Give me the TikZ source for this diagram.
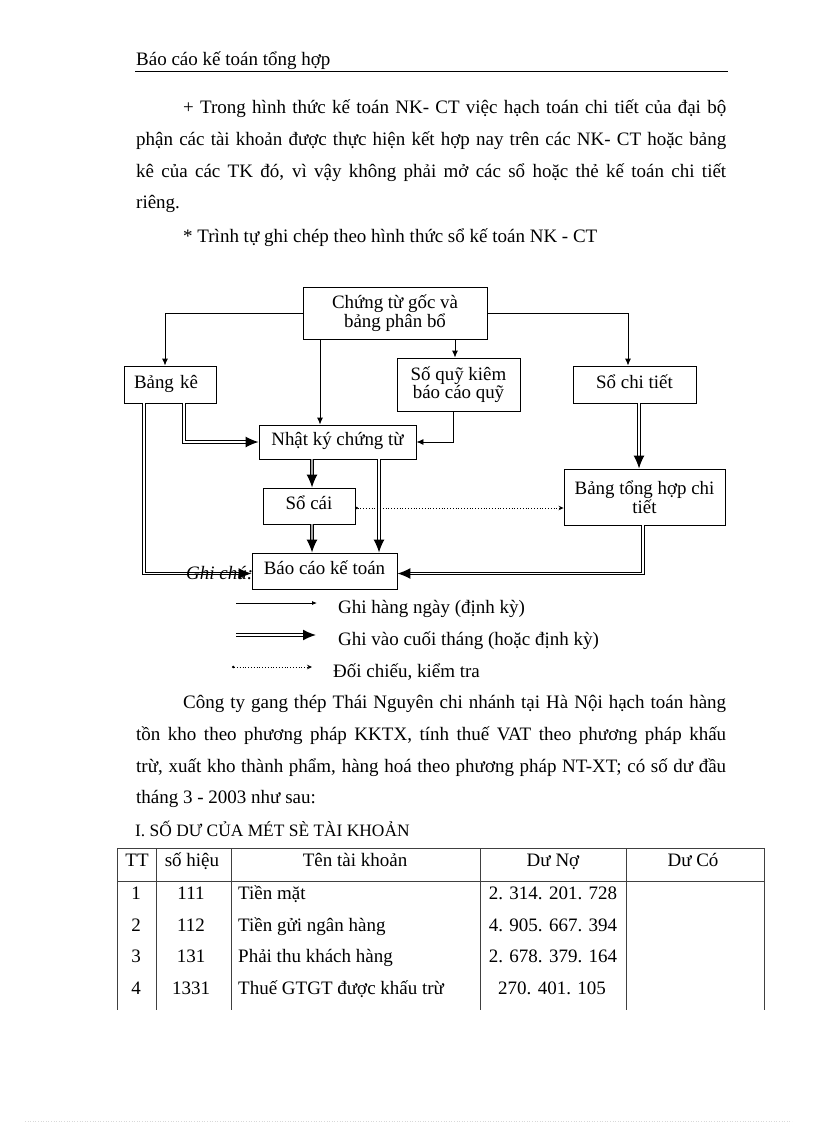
\documentclass[tikz,border=0pt]{standalone}
\usepackage{fontspec}
\setmainfont{Liberation Serif}
\usetikzlibrary{arrows.meta}
\newcommand\bodyfnt{\fontsize{19}{20}\selectfont}
\newcommand\boxfnt{\fontsize{18.9}{17}\selectfont}
\newcommand\headfnt{\fontsize{17.4}{19}\selectfont}
\begin{document}
\begin{tikzpicture}[x=1pt,y=-1pt,
  txt/.style={anchor=base west, inner sep=0pt, font=\bodyfnt},
  ctxt/.style={anchor=base, inner sep=0pt, font=\bodyfnt},
  box/.style={draw, line width=0.9pt, inner sep=0pt, align=center, font=\boxfnt},
  one/.style={text height=11pt, text depth=4pt},
  thinarr/.style={line width=0.9pt, -{Latex[length=7pt,width=6pt]}},
  dblarr/.style={double, double distance=1.3pt, line width=1.2pt, -{Latex[length=13pt,width=11pt]}},
  grayarr/.style={dblarr, double=gray!70},
  dotarr/.style={dotted, line width=0.8pt, {Circle[length=2.5pt]}-{Stealth[length=5pt,width=4.5pt]}},
  tline/.style={line width=0.9pt, black!75}
]
\useasboundingbox (0,0) rectangle (816,1123);
\fill[white] (0,0) rectangle (816,1123);

% header
\node[txt] (hdr) at (136,66) {Báo cáo kế toán tổng hợp};
\draw[line width=0.9pt] (135,71.5) -- (728,71.5);

% paragraph 1
\node[txt] (p1a) at (183,114) {\makebox[543pt][s]{+ Trong hình thức kế toán NK- CT việc hạch toán chi tiết của đại bộ}};
\node[txt] (p1b) at (136,146) {\makebox[590pt][s]{phận các tài khoản được thực hiện kết hợp nay trên các NK- CT hoặc bảng}};
\node[txt] (p1c) at (136,178) {\makebox[590pt][s]{kê của các TK đó, vì vậy không phải mở các sổ hoặc thẻ kế toán chi tiết}};
\node[txt] (p1d) at (136,209) {riêng.};
\node[txt] (p1e) at (183,242) {* Trình tự ghi chép theo hình thức sổ kế toán NK - CT};

% diagram boxes
\node[box, minimum width=184pt, minimum height=52pt] (cg) at (395,313) {Chứng từ gốc và\\bảng phân bổ};
\node[box, one, minimum width=92pt, minimum height=37pt, align=left, text width=72pt, inner xsep=10pt] (bk) at (170,384.5) {Bảng kê};
\node[box, minimum width=123pt, minimum height=53pt] (sq) at (458.5,384.5) {Số quỹ kiêm\\báo cáo quỹ};
\node[box, one, minimum width=123pt, minimum height=37pt] (sct) at (634.5,384.5) {Sổ chi tiết};
\node[box, one, minimum width=157pt, minimum height=34pt] (nk) at (337.5,442) {Nhật ký chứng từ};
\node[box, one, minimum width=92pt, minimum height=36pt] (sc) at (309,506) {Sổ cái};
\node[box, minimum width=161pt, minimum height=56pt] (bth) at (644.5,497) {Bảng tổng hợp chi\\tiết};
\node[box, one, minimum width=145pt, minimum height=36pt] (bc) at (324.5,571) {Báo cáo kế toán};

% helper columns / rows
\coordinate (x144) at (144,0);
\coordinate (x184) at (184,0);
\coordinate (x312) at (312,0);
\coordinate (x320) at (320,0);
\coordinate (x379) at (379,0);
\coordinate (x453) at (453,0);
\coordinate (x455) at (455,0);
\coordinate (x639) at (639,0);
\coordinate (x643) at (643,0);
\coordinate (y508) at (0,508);
\coordinate (y574) at (0,573.5);

% thin connectors
\draw[thinarr] (cg.west) -| ([xshift=-5pt]bk.north);
\draw[thinarr] (cg.east) -| ([xshift=-6.5pt]sct.north);
\draw[thinarr] (cg.south -| x320) -- (nk.north -| x320);
\draw[thinarr] (cg.south -| x455) -- (sq.north -| x455);
\draw[thinarr] (sq.south -| x453) |- (nk.east);

% double connectors
\draw[dblarr] (bk.south -| x184) |- (nk.west);
\draw[dblarr] (bk.south -| x144) |- (bc.west |- y574);
\draw[grayarr] (nk.south -| x312) -- (sc.north -| x312);
\draw[grayarr] (sc.south -| x312) -- (bc.north -| x312);
\draw[dblarr] (nk.south -| x379) -- (bc.north -| x379);
\draw[dblarr] (sct.south -| x639) -- (bth.north -| x639);
\draw[dblarr] (bth.south -| x643) |- (bc.east |- y574);

% dotted
\draw[dotarr] (sc.east |- y508) -- (bth.west |- y508);

% legend
\node[txt, font=\bodyfnt\itshape] (gc) at (186,579) {Ghi chú:};
\coordinate (l1a) at (236,603); \coordinate (l1b) at (317,603);
\coordinate (l2a) at (236,635); \coordinate (l2b) at (316,635);
\coordinate (l3a) at (232,667); \coordinate (l3b) at (312,667);
\draw[line width=0.8pt, -{Latex[length=5pt,width=4pt]}] (l1a) -- (l1b);
\draw[dblarr, line width=1.5pt, -{Latex[length=13pt,width=11pt]}] (l2a) -- (l2b);
\draw[dotarr] (l3a) -- (l3b);
\node[txt] (lg1) at (338,613) {Ghi hàng ngày (định kỳ)};
\node[txt] (lg2) at (338,645) {Ghi vào cuối tháng (hoặc định kỳ)};
\node[txt] (lg3) at (333,677) {Đối chiếu, kiểm tra};

% paragraph 2
\node[txt] (p2a) at (183,708) {\makebox[543pt][s]{Công ty gang thép Thái Nguyên chi nhánh tại Hà Nội hạch toán hàng}};
\node[txt] (p2b) at (136,740) {\makebox[590pt][s]{tồn kho theo phương pháp KKTX, tính thuế VAT theo phương pháp khấu}};
\node[txt] (p2c) at (136,772) {\makebox[590pt][s]{trừ, xuất kho thành phẩm, hàng hoá theo phương pháp NT-XT; có số dư đầu}};
\node[txt] (p2d) at (136,803) {tháng 3 - 2003 như sau:};
\node[txt, font=\headfnt] (h1) at (135,836) {I. SỐ DƯ CỦA MÉT SÈ TÀI KHOẢN};

% table grid
\draw[tline] (117,848) -- (764,848);
\draw[tline] (117,881) -- (764,881);
\foreach \xx in {117,156,231,480,626,764} \draw[tline] (\xx,848) -- (\xx,1010);

% table header
\node[ctxt] (th1) at (137,866) {TT};
\node[ctxt] (th2) at (192,866) {số hiệu};
\node[ctxt] (th3) at (355,866) {Tên tài khoản};
\node[ctxt] (th4) at (553,866) {Dư Nợ};
\node[ctxt] (th5) at (693,866) {Dư Có};

% rows
\node[ctxt] (r1a) at (136,899) {1};
\node[ctxt] (r1b) at (191,899) {111};
\node[txt] (r1c) at (238,899) {Tiền mặt};
\node[ctxt] (r1d) at (553,899) {2. 314. 201. 728};
\node[ctxt] (r2a) at (136,931) {2};
\node[ctxt] (r2b) at (191,931) {112};
\node[txt] (r2c) at (238,931) {Tiền gửi ngân hàng};
\node[ctxt] (r2d) at (553,931) {4. 905. 667. 394};
\node[ctxt] (r3a) at (136,962) {3};
\node[ctxt] (r3b) at (191,962) {131};
\node[txt] (r3c) at (238,962) {Phải thu khách hàng};
\node[ctxt] (r3d) at (553,962) {2. 678. 379. 164};
\node[ctxt] (r4a) at (136,994) {4};
\node[ctxt] (r4b) at (191,994) {1331};
\node[txt] (r4c) at (238,994) {Thuế GTGT được khấu trừ};
\node[ctxt] (r4d) at (552,994) {270. 401. 105};

% faint page edge
\draw[gray!30, dotted, line width=0.6pt] (25,1121.5) -- (792,1121.5);
\end{tikzpicture}
\end{document}
